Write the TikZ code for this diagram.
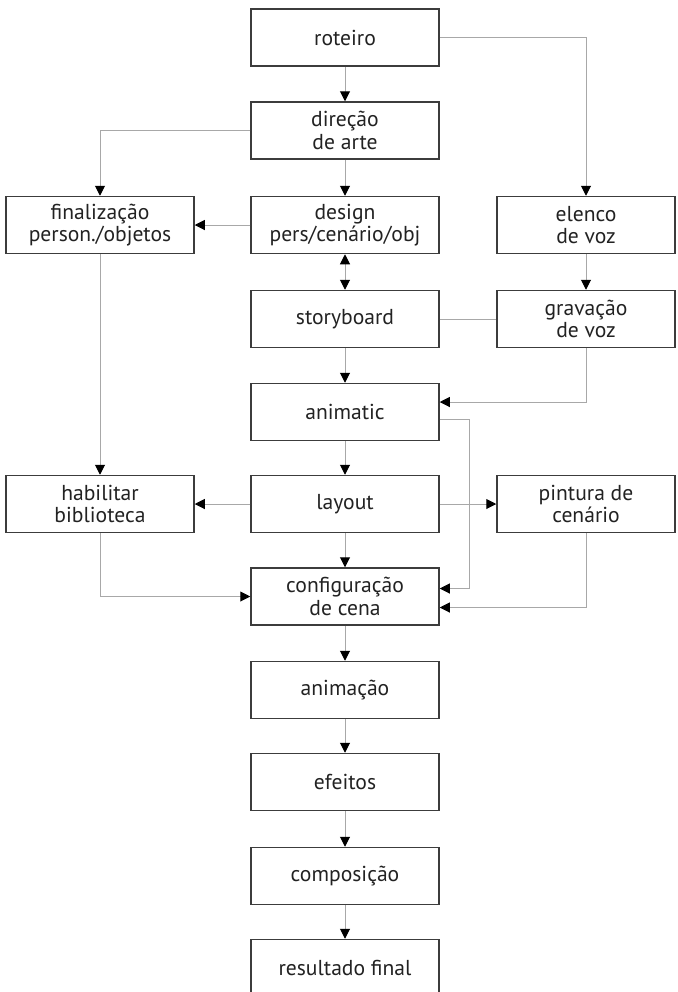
\documentclass[tikz,border=0pt]{standalone}
\usepackage{fontspec}
\setmainfont{PT Sans}
\usetikzlibrary{arrows.meta}
\definecolor{boxgray}{HTML}{3C3C3C}
\definecolor{linegray}{HTML}{A8A8A8}
\definecolor{textgray}{HTML}{222222}

\begin{document}
\begin{tikzpicture}[x=0.5pt,y=0.5pt,
  etapa/.style={draw=boxgray, line width=0.75pt, minimum width=94pt, minimum height=28.5pt,
    inner sep=0pt, align=center, text=textgray, font=\fontsize{10.8}{11.2}\selectfont},
  lado/.style={etapa, minimum width=89pt},
  liga/.style={draw=linegray, line width=0.5pt, -{Triangle[length=5pt,width=5pt,color=black]}},
  duplo/.style={liga, {Triangle[length=5pt,width=5pt,color=black]}-{Triangle[length=5pt,width=5pt,color=black]}}]
\useasboundingbox (0,0) rectangle (677,-992);
\node[etapa] (roteiro) at (345,-37.5) {roteiro};
\node[etapa] (direcao) at (345,-130.5) {direção\\de arte};
\node[etapa] (design) at (345,-225) {design\\pers/cenário/obj};
\node[etapa] (finalizacao) at (100,-225) {finalização\\person./objetos};
\node[lado] (elenco) at (586,-225) {elenco\\de voz};
\node[etapa] (storyboard) at (345,-319) {storyboard};
\node[lado] (gravacao) at (586,-319) {gravação\\de voz};
\node[etapa] (animatic) at (345,-412) {animatic};
\node[etapa] (layout) at (345,-504) {layout};
\node[etapa] (habilitar) at (100,-504) {habilitar\\biblioteca};
\node[lado] (pintura) at (586,-504) {pintura de\\cenário};
\node[etapa] (config) at (345,-596.5) {configuração\\de cena};
\node[etapa] (animacao) at (345,-690) {animação};
\node[etapa] (efeitos) at (345,-782) {efeitos};
\node[etapa] (composicao) at (345,-876) {composição};
\node[etapa] (resultado) at (345,-968) {resultado final};

\draw[liga] (roteiro) -- (direcao);
\draw[liga] (roteiro.east) -| (elenco.north);
\draw[liga] (direcao.west) -| (finalizacao.north);
\draw[liga] (direcao) -- (design);
\draw[liga] (design) -- (finalizacao);
\draw[duplo] (design) -- (storyboard);
\draw[liga] (elenco) -- (gravacao);
\draw[draw=linegray, line width=0.5pt] (storyboard) -- (gravacao);
\draw[liga] (storyboard) -- (animatic);
\draw[liga] (gravacao.south) |- ([yshift=5pt]animatic.east);
\draw[liga] ([yshift=-3.5pt]animatic.east) -- ++(30,0) |- ([yshift=4pt]config.east);
\draw[liga] (animatic) -- (layout);
\draw[liga] (finalizacao) -- (habilitar);
\draw[liga] (layout) -- (habilitar);
\draw[liga] (layout) -- (pintura);
\draw[liga] (layout) -- (config);
\draw[liga] (habilitar.south) |- (config.west);
\draw[liga] (pintura.south) |- ([yshift=-5.5pt]config.east);
\draw[liga] (config) -- (animacao);
\draw[liga] (animacao) -- (efeitos);
\draw[liga] (efeitos) -- (composicao);
\draw[liga] (composicao) -- (resultado);
\end{tikzpicture}
\end{document}
